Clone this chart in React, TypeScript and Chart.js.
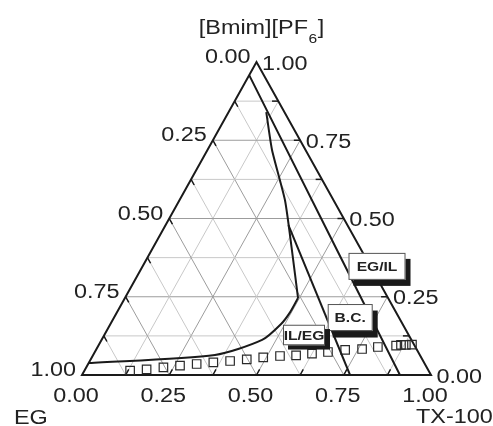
import React, { useEffect, useRef } from 'react';
import { Chart, registerables } from 'chart.js';

Chart.register(...registerables);

// ---- Data (ternary mass fractions: TX = TX-100, IL = [Bmim][PF6]; EG = 1 - TX - IL) ----
const tickValues = [0, 0.25, 0.5, 0.75, 1];
const tickLabels = ['0.00', '0.25', '0.50', '0.75', '1.00'];
const titleMain = '[Bmim][PF';
const titleSub = '6';
const titleEnd = ']';
const cornerLeft = 'EG';
const cornerRight = 'TX-100';

// EG/IL boundary line
const egilTX = [0.0, 0.556, 0.911];
const egilIL = [0.958, 0.373, 0.0];

// inner boundary line
const innerTX = [0.108, 0.185, 0.302, 0.402, 0.496];
const innerIL = [0.84, 0.719, 0.559, 0.399, 0.246];

// B.C. branch line
const bcTX = [0.352, 0.768];
const bcIL = [0.479, 0.0];

// IL/EG curve
const ilegTX = [0.496, 0.496, 0.489, 0.46, 0.349, 0.0];
const ilegIL = [0.246, 0.201, 0.163, 0.112, 0.064, 0.038];

// open-square experimental points
const sqTX = [0.131, 0.176, 0.221, 0.266, 0.311, 0.356, 0.402, 0.447, 0.491, 0.537, 0.582, 0.625, 0.668, 0.714, 0.761, 0.803, 0.853, 0.866, 0.88, 0.897];
const sqIL = [0.0137, 0.0182, 0.0246, 0.0297, 0.0351, 0.0406, 0.0447, 0.0502, 0.0565, 0.0607, 0.0629, 0.068, 0.0735, 0.08, 0.083, 0.0895, 0.094, 0.096, 0.096, 0.097];

// region labels
const regionLabels = ['EG/IL', 'B.C.', 'IL/EG'];

const toXY = (tx: number[], il: number[]) => tx.map((t, i) => ({ x: t + il[i] / 2, y: il[i] }));

const FONT = '"Liberation Sans", Arial, sans-serif';
const SX = 1.2;

function drawText(ctx: CanvasRenderingContext2D, text: string, x: number, y: number, align: CanvasTextAlign, font: string) {
  ctx.save();
  ctx.font = font;
  ctx.textAlign = align;
  ctx.textBaseline = 'alphabetic';
  ctx.translate(x, y);
  ctx.scale(SX, 1);
  ctx.fillText(text, 0, 0);
  ctx.restore();
}

function textWidth(ctx: CanvasRenderingContext2D, text: string, font: string) {
  ctx.save();
  ctx.font = font;
  const w = ctx.measureText(text).width * SX;
  ctx.restore();
  return w;
}

const boxCfg = [
  { cx: 0.8453, cy: 0.347, w: 57, h: 27, dx: 5, dy: 6 },
  { cx: 0.7685, cy: 0.1836, w: 45, h: 27, dx: 5, dy: 6.5 },
  { cx: 0.6361, cy: 0.1278, w: 42, h: 20.5, dx: 5, dy: 4.3 },
];

const ternaryPlugin = {
  id: 'ternary',
  beforeDatasetsDraw(chart: any) {
    const ctx: CanvasRenderingContext2D = chart.ctx;
    const xs = chart.scales.x;
    const ys = chart.scales.y;
    const P = (tx: number, il: number) => [xs.getPixelForValue(tx + il / 2), ys.getPixelForValue(il)];
    const seg = (a: number[], b: number[]) => {
      ctx.beginPath();
      ctx.moveTo(a[0], a[1]);
      ctx.lineTo(b[0], b[1]);
      ctx.stroke();
    };
    ctx.save();
    ctx.lineWidth = 1;
    for (let k = 1; k < 8; k++) {
      const f = k / 8;
      ctx.strokeStyle = k % 2 === 0 ? '#9c9c9c' : '#c8c8c8';
      seg(P(0, f), P(1 - f, f));
      seg(P(f, 0), P(f, 1 - f));
      seg(P(0, 1 - f), P(1 - f, 0));
    }
    ctx.strokeStyle = '#1a1a1a';
    ctx.lineWidth = 2;
    ctx.lineJoin = 'miter';
    const a = P(0, 0), b = P(1, 0), c = P(0, 1);
    ctx.beginPath();
    ctx.moveTo(a[0], a[1]);
    ctx.lineTo(b[0], b[1]);
    ctx.lineTo(c[0], c[1]);
    ctx.closePath();
    ctx.stroke();
    ctx.lineWidth = 1.5;
    const L = 0.018;
    for (let k = 1; k < 8; k++) {
      const f = k / 8;
      seg(P(0, 1 - f), P(L, 1 - f - L));
      seg(P(1 - f, f), P(1 - f - L, f));
      seg(P(f, 0), P(f, L));
    }
    ctx.restore();
  },
  afterDatasetsDraw(chart: any) {
    const ctx: CanvasRenderingContext2D = chart.ctx;
    const xs = chart.scales.x;
    const ys = chart.scales.y;
    const P = (tx: number, il: number) => [xs.getPixelForValue(tx + il / 2), ys.getPixelForValue(il)];
    ctx.save();
    boxCfg.forEach((bx, i) => {
      const cx = xs.getPixelForValue(bx.cx);
      const cy = ys.getPixelForValue(bx.cy);
      const x0 = cx - bx.w / 2;
      const y0 = cy - bx.h / 2;
      ctx.fillStyle = '#1a1a1a';
      ctx.fillRect(x0 + bx.dx, y0 + bx.dy, bx.w, bx.h);
      ctx.fillStyle = '#ffffff';
      ctx.fillRect(x0, y0, bx.w, bx.h);
      ctx.strokeStyle = '#555';
      ctx.lineWidth = 1;
      ctx.strokeRect(x0 + 0.5, y0 + 0.5, bx.w - 1, bx.h - 1);
      ctx.fillStyle = '#222';
      drawText(ctx, regionLabels[i], cx, cy + 4.8, 'center', `bold 13px ${FONT}`);
    });

    const f = `19.5px ${FONT}`;
    ctx.fillStyle = '#222';
    tickValues.forEach((v, i) => {
      const pb = P(v, 0);
      drawText(ctx, tickLabels[i], pb[0] - 6, pb[1] + 27, 'center', f);
      const pl = P(0, 1 - v);
      drawText(ctx, tickLabels[i], pl[0] - 6, pl[1] + 1, 'right', f);
      const pr = P(1 - v, v);
      drawText(ctx, tickLabels[i], pr[0] + 5.5, pr[1] + 7.5, 'left', f);
    });

    const top = P(0, 1);
    const wMain = textWidth(ctx, titleMain, f);
    const fs = `13px ${FONT}`;
    const wSub = textWidth(ctx, titleSub, fs);
    const wEnd = textWidth(ctx, titleEnd, f);
    const total = wMain + wSub + wEnd + 1;
    let tx = top[0] + 5 - total / 2;
    drawText(ctx, titleMain, tx, 34, 'left', f);
    tx += wMain + 0.5;
    drawText(ctx, titleSub, tx, 43, 'left', fs);
    tx += wSub + 0.5;
    drawText(ctx, titleEnd, tx, 34, 'left', f);

    drawText(ctx, cornerLeft, 14, 424, 'left', f);
    drawText(ctx, cornerRight, 416, 423, 'left', f);
    ctx.restore();
  },
};

export default function App() {
  const ref = useRef<HTMLCanvasElement | null>(null);
  useEffect(() => {
    if (!ref.current) return;
    const lineStyle = {
      showLine: true,
      borderColor: '#1a1a1a',
      borderWidth: 2,
      pointRadius: 0,
      fill: false,
    };
    const chart = new Chart(ref.current, {
      type: 'scatter',
      data: {
        datasets: [
          { label: 'EG/IL', data: toXY(egilTX, egilIL), ...lineStyle, tension: 0 },
          { label: 'inner', data: toXY(innerTX, innerIL), ...lineStyle, tension: 0.2 },
          { label: 'B.C.', data: toXY(bcTX, bcIL), ...lineStyle, tension: 0 },
          { label: 'IL/EG', data: toXY(ilegTX, ilegIL), ...lineStyle, tension: 0.25 },
          {
            label: 'points',
            data: toXY(sqTX, sqIL),
            showLine: false,
            pointStyle: 'rect',
            pointRadius: 6,
            borderWidth: 1.2,
            borderColor: '#2a2a2a',
            backgroundColor: 'rgba(0,0,0,0)',
          },
        ],
      },
      options: {
        animation: false,
        responsive: false,
        maintainAspectRatio: false,
        layout: { padding: { left: 82, right: 62, top: 62, bottom: 51 } },
        scales: {
          x: { type: 'linear', min: 0, max: 1, display: false },
          y: { type: 'linear', min: 0, max: 1, display: false },
        },
        plugins: {
          legend: { display: false },
          tooltip: { enabled: false },
        },
        events: [],
      } as any,
      plugins: [ternaryPlugin],
    } as any);
    return () => chart.destroy();
  }, []);
  return (
    <div style={{ position: 'absolute', left: 0, top: 0, width: 493, height: 426, background: '#fff' }}>
      <canvas ref={ref} width={493} height={426} style={{ display: 'block' }} />
    </div>
  );
}
